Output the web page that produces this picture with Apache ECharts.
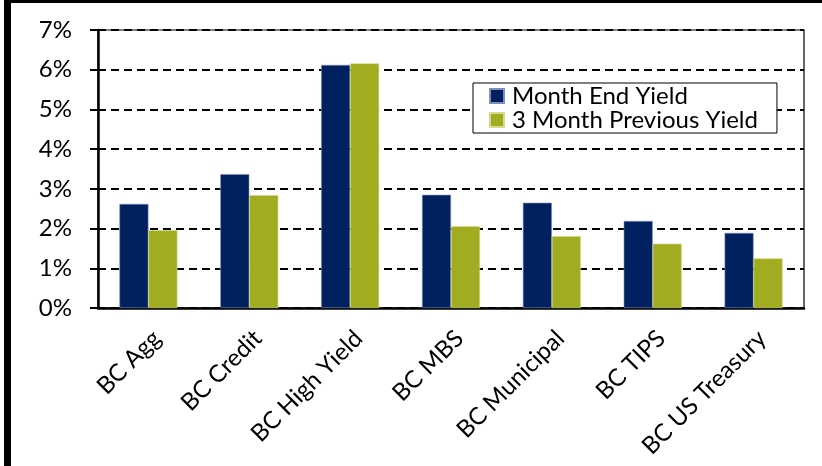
<!DOCTYPE html>
<html>
<head>
<meta charset="utf-8">
<script src="https://cdn.jsdelivr.net/npm/echarts@6/dist/echarts.min.js"></script>
<style>html,body{margin:0;padding:0;background:#fff}#c{width:822px;height:466px}</style>
</head>
<body>
<div id="c"></div>
<script>
var categories = ['BC Agg', 'BC Credit', 'BC High Yield', 'BC MBS', 'BC Municipal', 'BC TIPS', 'BC US Treasury'];
var seriesNames = ['Month End Yield', '3 Month Previous Yield'];
var monthEndYield = [2.62, 3.37, 6.12, 2.85, 2.65, 2.19, 1.89];
var prevYield = [1.96, 2.84, 6.16, 2.06, 1.81, 1.62, 1.25];
var yTicks = [0, 1, 2, 3, 4, 5, 6, 7];

var FONT = 'Lato';
var chart = echarts.init(document.getElementById('c'), null, {renderer: 'canvas'});
chart.setOption({
  animation: false,
  backgroundColor: '#fff',
  textStyle: {fontFamily: FONT},
  graphic: [
    {type: 'rect', shape: {x: 4, y: 0, width: 7, height: 466}, style: {fill: '#000'}, z: 100},
    {type: 'rect', shape: {x: 4, y: 0, width: 818, height: 3}, style: {fill: '#000'}, z: 100}
  ],
  grid: {left: 98, right: 18, top: 30, bottom: 158, show: true, borderColor: '#000', borderWidth: 1.2, outerBoundsMode: 'none', containLabel: false},
  legend: {
    orient: 'vertical', left: 473, top: 83,
    backgroundColor: '#fff', borderColor: '#000', borderWidth: 1,
    padding: [1, 19, 1, 16],
    itemWidth: 14, itemHeight: 14, itemGap: 0,
    icon: 'rect',
    textStyle: {fontFamily: FONT, fontSize: 24, color: '#000', padding: [0, 0, 0, 3]},
    data: seriesNames
  },
  xAxis: {
    type: 'category', data: categories,
    axisLine: {lineStyle: {color: '#000', width: 2.5}},
    axisTick: {length: 8, lineStyle: {color: '#000', width: 2}},
    axisLabel: {rotate: 45, align: 'right', verticalAlign: 'top', margin: 18, fontFamily: FONT, fontSize: 24, color: '#000', interval: 0}
  },
  yAxis: {
    type: 'value', min: yTicks[0], max: yTicks[yTicks.length - 1], interval: 1,
    axisLine: {show: true, lineStyle: {color: '#000', width: 2.5}},
    axisTick: {show: true, length: 8, lineStyle: {color: '#000', width: 2}},
    axisLabel: {formatter: '{value}%', margin: 26, fontFamily: FONT, fontSize: 24, color: '#000'},
    splitLine: {show: true, lineStyle: {color: '#000', width: 2, type: [8, 5]}}
  },
  series: [
    {name: seriesNames[0], type: 'bar', data: monthEndYield, barWidth: 29, barGap: '0%', itemStyle: {color: '#002060', borderColor: '#7d8fb8', borderWidth: 0.6}},
    {name: seriesNames[1], type: 'bar', data: prevYield, barWidth: 29, barGap: '0%', itemStyle: {color: '#A2AC20', borderColor: '#d5dc8a', borderWidth: 0.6}}
  ]
});
</script>
</body>
</html>
